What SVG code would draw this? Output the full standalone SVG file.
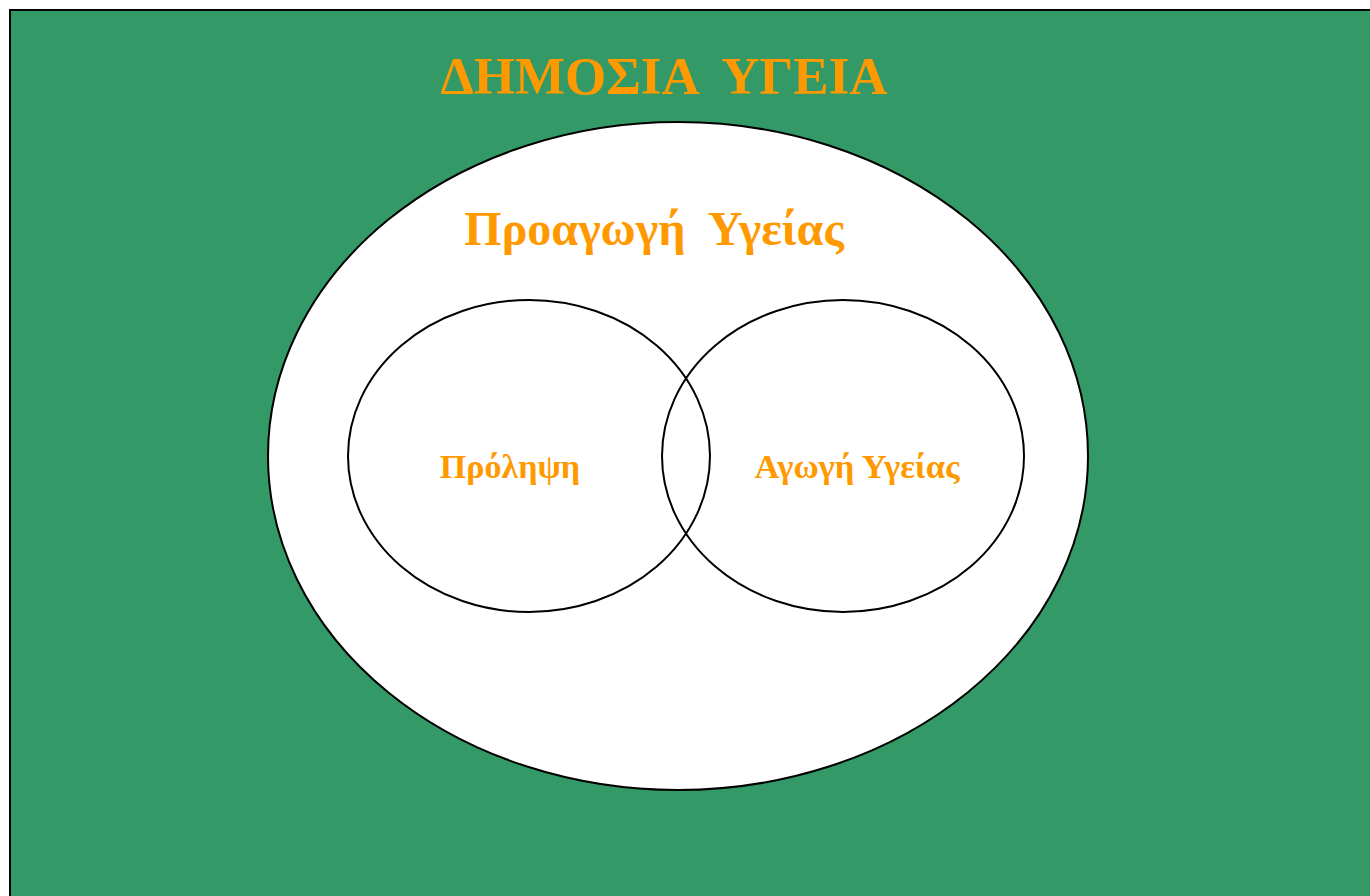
<svg xmlns="http://www.w3.org/2000/svg" width="1370" height="896" viewBox="0 0 1370 896">
<style>
.t{font-family:"Liberation Serif","Times New Roman",serif;font-weight:bold;fill:#FF9900;text-anchor:middle}
.c{fill:#FFFFFF;stroke:#000000;stroke-width:2}
.n{fill:none;stroke:#000000;stroke-width:2}
</style>
<g id="background">
<rect x="10" y="10" width="1380" height="900" fill="#339966" stroke="#000000" stroke-width="2"/>
<text class="t" x="664" y="94" font-size="53" xml:space="preserve">ΔΗΜΟΣΙΑ  ΥΓΕΙΑ</text>
</g>
<g id="promotion">
<ellipse class="c" cx="678" cy="456" rx="410" ry="334"/>
<text class="t" x="654" y="245" font-size="48" xml:space="preserve">Προαγωγή  Υγείας</text>
</g>
<g id="prevention">
<ellipse class="n" cx="529" cy="456" rx="181" ry="156"/>
<text class="t" x="510" y="478" font-size="34">Πρόληψη</text>
</g>
<g id="education">
<ellipse class="n" cx="843" cy="456" rx="181" ry="156"/>
<text class="t" x="857" y="478" font-size="34.5">Αγωγή Υγείας</text>
</g>
<g id="connectors"/>
</svg>
